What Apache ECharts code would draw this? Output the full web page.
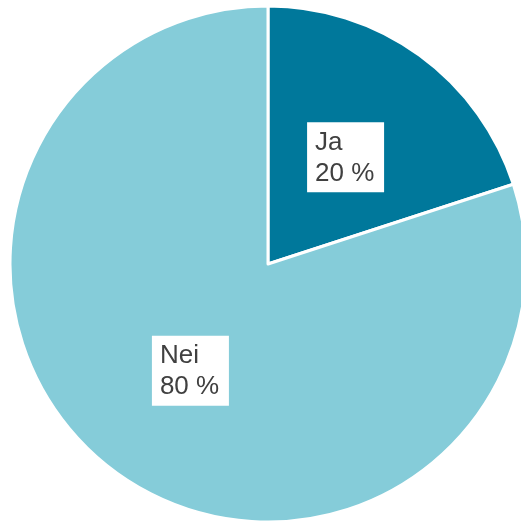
<!DOCTYPE html>
<html>
<head>
<meta charset="utf-8">
<script src="https://cdn.jsdelivr.net/npm/echarts@6/dist/echarts.min.js"></script>
<style>
  html, body { margin: 0; padding: 0; background: #fff; }
  #main { width: 521px; height: 521px; }
</style>
</head>
<body>
<div id="main"></div>
<script>
// svar og andeler
const categories = ['Ja', 'Nei'];
const shares = [20, 80];
const colors = ['#00789b', '#85ccd9'];

let chart = echarts.init(document.getElementById('main'));
chart.setOption({
  animation: false,
  series: [
    {
      type: 'pie',
      center: [268, 264],
      radius: 258,
      startAngle: 90,
      clockwise: true,
      itemStyle: {
        borderColor: '#fff',
        borderWidth: 3
      },
      label: {
        show: true,
        position: 'inside',
        backgroundColor: '#fff',
        padding: [5, 9, 3, 8],
        width: 60,
        formatter: function (p) {
          return '{a|' + p.name + '}\n{a|' + p.value + ' %}';
        },
        rich: {
          a: {
            fontFamily: 'Liberation Sans, Arial, sans-serif',
            fontSize: 26,
            lineHeight: 31,
            color: '#404040',
            align: 'left'
          }
        }
      },
      labelLine: { show: false },
      data: categories.map((c, i) => ({
        name: c,
        value: shares[i],
        itemStyle: { color: colors[i] }
      }))
    }
  ]
});
</script>
</body>
</html>
